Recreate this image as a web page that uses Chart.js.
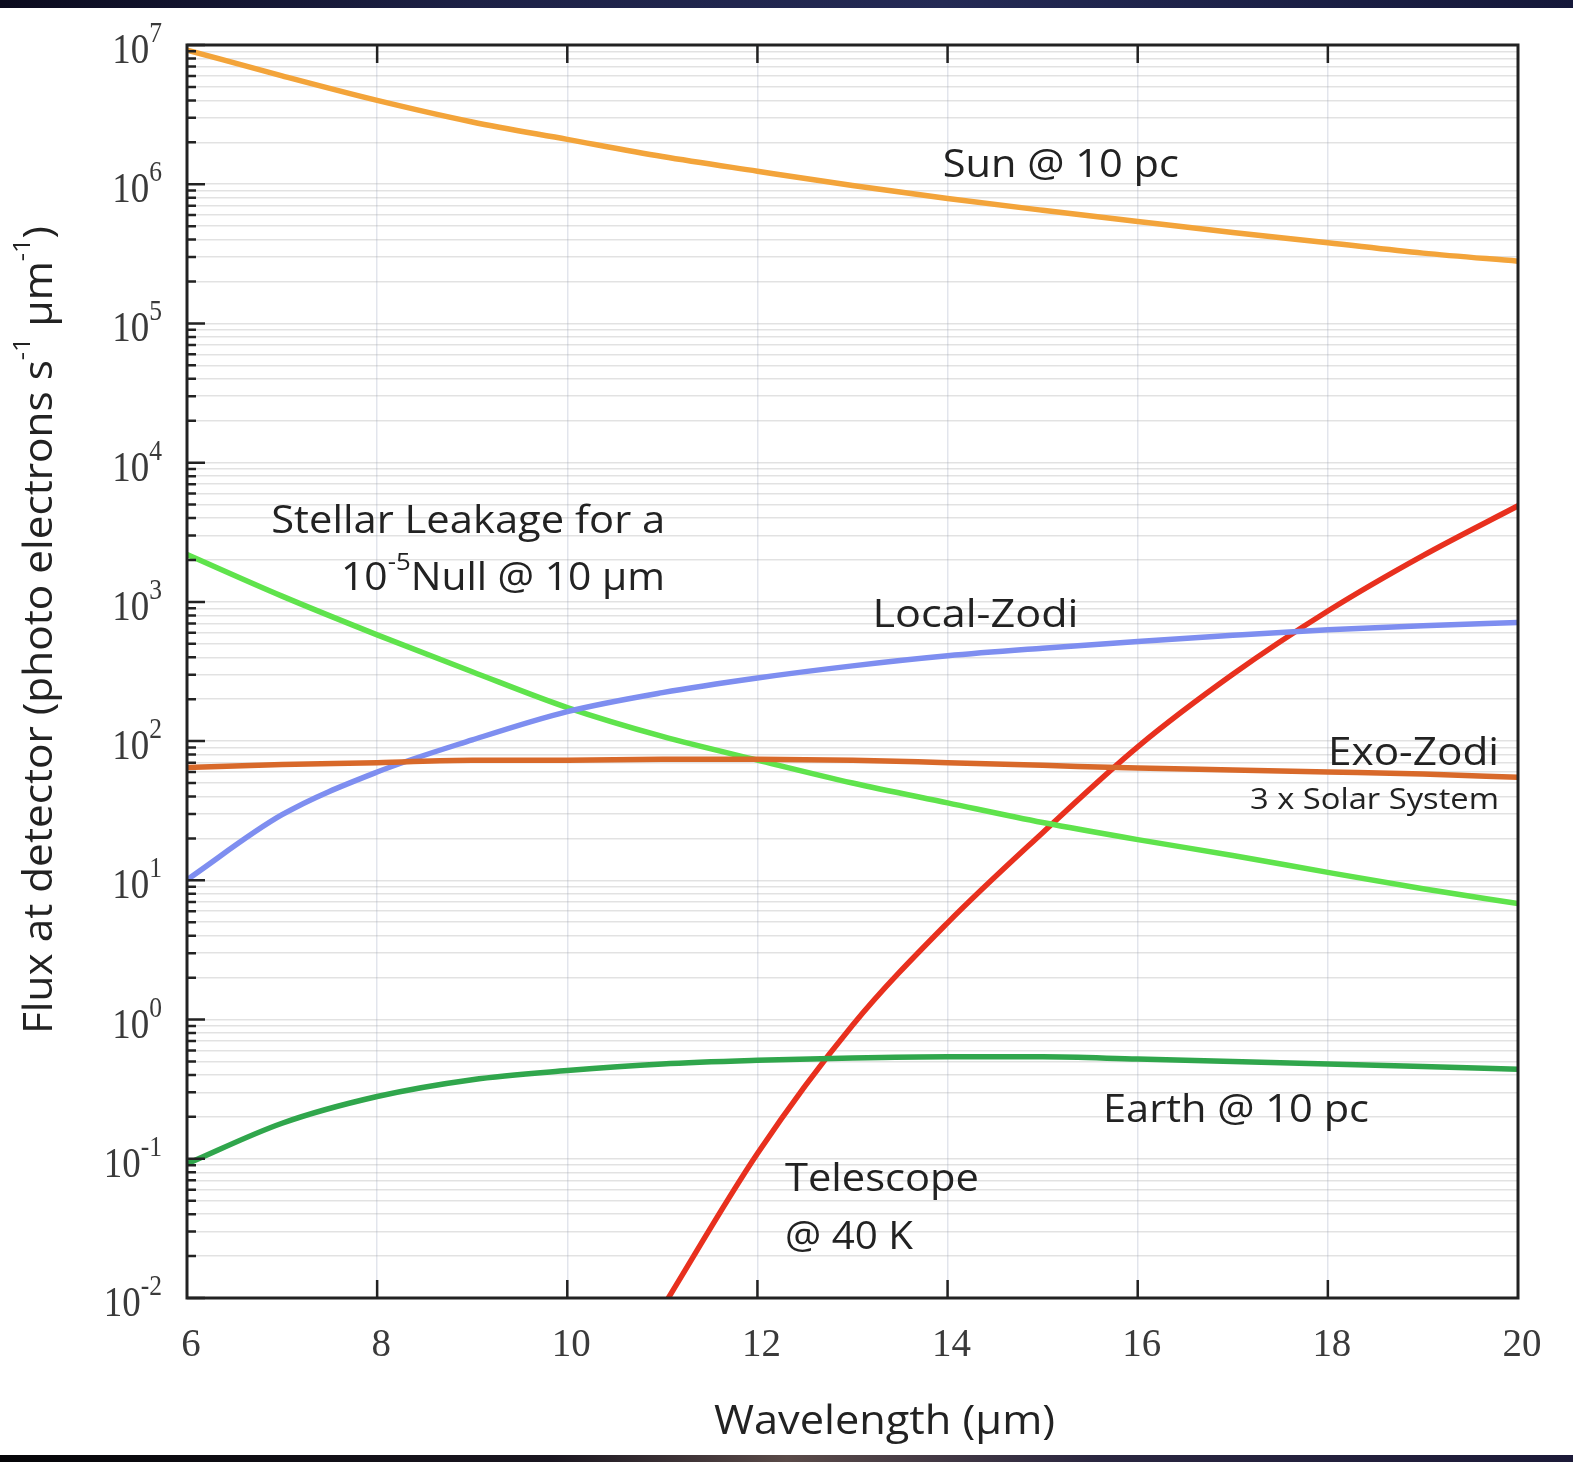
<!DOCTYPE html>
<html>
<head>
<meta charset="utf-8">
<script src="https://cdn.jsdelivr.net/npm/chart.js@4.4.0/dist/chart.umd.min.js"></script>
<style>
  html, body { margin: 0; padding: 0; background: #ffffff; }
  #wrap { position: relative; width: 1573px; height: 1462px; }
  canvas { display: block; }
</style>
</head>
<body>
<div id="wrap"><canvas id="c" width="1573" height="1462"></canvas></div>
<script>
// ---------- data ----------
const wavelengths = [6, 7, 8, 9, 10, 11, 12, 13, 14, 15, 16, 17, 18, 19, 20];
const sunFlux      = [9.2e6, 6.0e6, 4.0e6, 2.8e6, 2.1e6, 1.58e6, 1.24e6, 9.8e5, 7.9e5, 6.5e5, 5.4e5, 4.5e5, 3.8e5, 3.2e5, 2.8e5];
const stellarLeak  = [2190, 1100, 580, 315, 174, 108, 73, 50, 36, 26, 19.6, 15.1, 11.4, 8.7, 6.8];
const localZodi    = [10.1, 29.6, 60, 102, 163, 223, 284, 347, 410, 465, 520, 575, 630, 675, 710];
const exoZodi      = [64.5, 68, 70, 73, 73, 74, 74, 73, 70, 67, 64, 62, 60, 58, 55];
const telescope40K = [null, null, null, null, null, 0.0085, 0.109, 0.91, 4.95, 22, 91, 302, 860, 2150, 4900];
const earthFlux    = [0.092, 0.18, 0.28, 0.37, 0.43, 0.48, 0.51, 0.53, 0.54, 0.54, 0.52, 0.50, 0.48, 0.46, 0.44];
const xTicks = [6, 8, 10, 12, 14, 16, 18, 20];
const yExponents = [-2, -1, 0, 1, 2, 3, 4, 5, 6, 7];

// ---------- helpers ----------
function pts(arr) { return wavelengths.map((w, i) => ({ x: w, y: arr[i] })); }
function ds(label, arr, color) {
  return { label, data: pts(arr), borderColor: color, backgroundColor: color,
           borderWidth: 5.5, pointRadius: 0, cubicInterpolationMode: 'monotone', spanGaps: false };
}
const SANS = '"Open Sans", "Noto Sans", sans-serif';
const SERIF = '"Liberation Serif", "DejaVu Serif", serif';

function richWidth(ctx, parts) {
  let w = 0;
  for (const p of parts) { ctx.font = p.size + 'px ' + (p.fam || SANS); w += ctx.measureText(p.t).width; }
  return w;
}
function drawRich(ctx, parts, x, y, align, targetW, sx0) {
  const w = richWidth(ctx, parts);
  let sx = sx0 || 1;
  if (targetW) sx = targetW / w;
  ctx.save();
  ctx.translate(x, y);
  ctx.scale(sx, 1);
  let cx = 0;
  if (align === 'right') cx = -w; else if (align === 'center') cx = -w / 2;
  ctx.textAlign = 'left';
  ctx.textBaseline = 'alphabetic';
  for (const p of parts) {
    ctx.font = p.size + 'px ' + (p.fam || SANS);
    ctx.fillText(p.t, cx, p.dy || 0);
    cx += ctx.measureText(p.t).width;
  }
  ctx.restore();
}

// annotation labels (anchor in data coordinates, baseline)
const annotations = [
  { parts: [{ t: 'Sun @ 10 pc', size: 38 }], x: 13.95, y: 1.12e6, align: 'left', w: 236 },
  { parts: [{ t: 'Stellar Leakage for a', size: 38 }], x: 6.886, y: 3100, align: 'left', w: 394 },
  { parts: [{ t: '10', size: 38 }, { t: '-5', size: 24, dy: -20 }, { t: 'Null @ 10 \u00b5m', size: 38 }], x: 7.62, y: 1222, align: 'left', w: 324 },
  { parts: [{ t: 'Local-Zodi', size: 38 }], x: 13.21, y: 662, align: 'left', w: 206 },
  { parts: [{ t: 'Exo-Zodi', size: 38 }], x: 19.80, y: 67, align: 'right', w: 171 },
  { parts: [{ t: '3 x Solar System', size: 29 }], x: 19.80, y: 32.3, align: 'right', w: 249 },
  { parts: [{ t: 'Earth @ 10 pc', size: 38 }], x: 15.635, y: 0.185, align: 'left', w: 266 },
  { parts: [{ t: 'Telescope', size: 38 }], x: 12.29, y: 0.059, align: 'left', w: 194 },
  { parts: [{ t: '@ 40 K', size: 38 }], x: 12.29, y: 0.0225, align: 'left', w: 128 }
];

const decorPlugin = {
  id: 'decor',
  beforeDraw(chart) {
    const ctx = chart.ctx;
    ctx.save();
    ctx.fillStyle = '#ffffff';
    ctx.fillRect(0, 0, chart.width, chart.height);
    const g1 = ctx.createLinearGradient(0, 0, chart.width, 0);
    g1.addColorStop(0, '#0b0b1e'); g1.addColorStop(0.3, '#1d2146'); g1.addColorStop(0.6, '#242a55');
    g1.addColorStop(1, '#15183a');
    ctx.fillStyle = g1;
    ctx.fillRect(0, 0, chart.width, 8);
    const g2 = ctx.createLinearGradient(0, 0, chart.width, 0);
    g2.addColorStop(0, '#050508'); g2.addColorStop(0.35, '#1a1620'); g2.addColorStop(0.5, '#5a4a48');
    g2.addColorStop(0.7, '#2a2640'); g2.addColorStop(1, '#1c1a38');
    ctx.fillStyle = g2;
    ctx.fillRect(0, 1455, chart.width, 7);
    ctx.restore();
  },
  afterDraw(chart) {
    const ctx = chart.ctx;
    const a = chart.chartArea;
    const xs = chart.scales.x, ys = chart.scales.y;
    ctx.save();
    ctx.strokeStyle = '#222222';
    ctx.lineWidth = 3;
    ctx.strokeRect(a.left, a.top, a.right - a.left, a.bottom - a.top);
    ctx.lineWidth = 2.5;
    ctx.beginPath();
    for (let e = -2; e <= 6; e++) {
      for (let m = 1; m <= 9; m++) {
        const v = m * Math.pow(10, e);
        const py = ys.getPixelForValue(v);
        const len = m === 1 ? 18 : 9;
        ctx.moveTo(a.left, py); ctx.lineTo(a.left + len, py);
      }
    }
    ctx.moveTo(a.left, ys.getPixelForValue(1e7)); ctx.lineTo(a.left + 18, ys.getPixelForValue(1e7));
    for (const t of xTicks) {
      if (t === 6 || t === 20) continue;
      const px = xs.getPixelForValue(t);
      ctx.moveTo(px, a.top); ctx.lineTo(px, a.top + 18);
      ctx.moveTo(px, a.bottom); ctx.lineTo(px, a.bottom - 18);
    }
    ctx.stroke();

    ctx.fillStyle = '#3a3a3a';
    for (const e of yExponents) {
      const py = ys.getPixelForValue(Math.pow(10, e));
      drawRich(ctx, [{ t: '10', size: 42, fam: SERIF, dy: 0 }, { t: String(e), size: 29, fam: SERIF, dy: -21 }],
               162, py + 18, 'right', null, 0.88);
    }
    for (const t of xTicks) {
      const px = xs.getPixelForValue(t);
      drawRich(ctx, [{ t: String(t), size: 41, fam: SERIF }], px + 4, a.bottom + 58, 'center', null, 0.95);
    }
    ctx.fillStyle = '#222222';
    drawRich(ctx, [{ t: 'Wavelength (\u00b5m)', size: 40 }], (a.left + a.right) / 2 + 32, 1434, 'center', 341);
    ctx.save();
    ctx.translate(52, 630);
    ctx.rotate(-Math.PI / 2);
    drawRich(ctx, [{ t: 'Flux at detector (photo electrons s', size: 40 },
                   { t: '-1', size: 24, dy: -22 },
                   { t: ' \u00b5m', size: 40 },
                   { t: '-1', size: 24, dy: -22 },
                   { t: ')', size: 40 }], 0, 0, 'center', 808);
    ctx.restore();
    for (const an of annotations) {
      const px = xs.getPixelForValue(an.x), py = ys.getPixelForValue(an.y);
      drawRich(ctx, an.parts, px, py, an.align, an.w);
    }
    ctx.restore();
  }
};

const yGridValues = [];
for (let e = -2; e <= 6; e++) for (let m = 1; m <= 9; m++) yGridValues.push(m * Math.pow(10, e));
yGridValues.push(1e7);

new Chart(document.getElementById('c'), {
  type: 'line',
  data: {
    datasets: [
      ds('Sun @ 10 pc', sunFlux, '#F3A43A'),
      ds('Exo-Zodi', exoZodi, '#D8692A'),
      ds('Local-Zodi', localZodi, '#7E8EF0'),
      ds('Stellar Leakage', stellarLeak, '#5FE34C'),
      ds('Earth @ 10 pc', earthFlux, '#30A64C'),
      ds('Telescope @ 40 K', telescope40K, '#E8301E')
    ]
  },
  options: {
    responsive: false,
    animation: false,
    devicePixelRatio: 1,
    layout: { padding: { top: 45, right: 55, left: 0, bottom: 0 } },
    plugins: { legend: { display: false }, tooltip: { enabled: false } },
    scales: {
      x: {
        type: 'linear', min: 6, max: 20,
        afterBuildTicks(s) { s.ticks = xTicks.map(v => ({ value: v })); },
        afterFit(s) { s.height = 164; },
        ticks: { display: false },
        grid: { color: 'rgba(150,160,185,0.28)', lineWidth: 1.5, drawTicks: false },
        border: { display: false }
      },
      y: {
        type: 'logarithmic', min: 0.01, max: 1e7,
        afterBuildTicks(s) { s.ticks = yGridValues.map(v => ({ value: v })); },
        afterFit(s) { s.width = 187; },
        ticks: { display: false },
        grid: { color: 'rgba(160,160,160,0.3)', lineWidth: 1.5, drawTicks: false },
        border: { display: false }
      }
    }
  },
  plugins: [decorPlugin]
});
</script>
</body>
</html>
